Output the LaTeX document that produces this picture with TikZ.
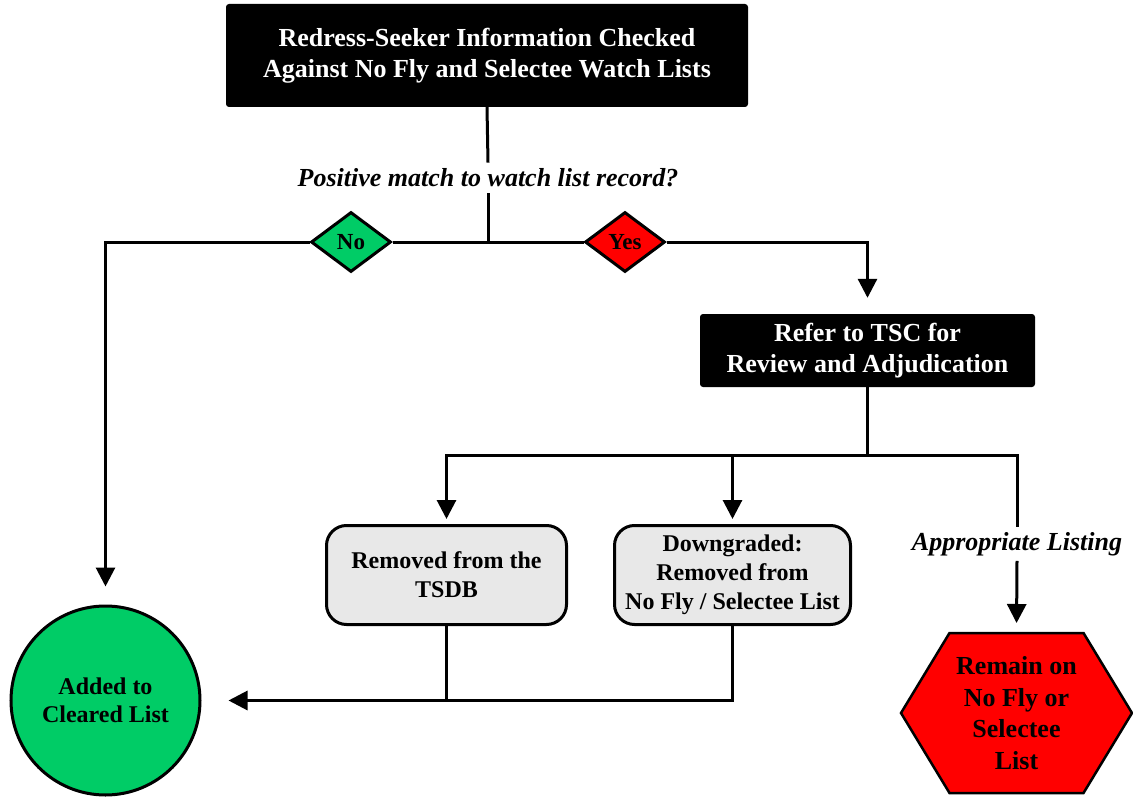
\documentclass[tikz,border=0pt]{standalone}
\usepackage{fontspec}
\setmainfont{Liberation Serif}
\usetikzlibrary{arrows.meta,shapes.geometric,calc}

\definecolor{okgreen}{RGB}{0,204,102}
\definecolor{stopred}{RGB}{255,0,0}
\definecolor{boxgray}{RGB}{232,232,232}

\tikzset{
  conn/.style={line width=3pt},
  arr/.style={conn, -{Triangle[width=19pt,length=19pt]}},
  darkbox/.style={fill=black, text=white, rounded corners=3pt, inner sep=0pt,
    align=center, font=\fontsize{26}{31}\selectfont\bfseries},
  decision/.style={diamond, draw, line width=3pt, inner sep=0pt,
    minimum width=80pt, minimum height=60pt, aspect=1.33,
    font=\fontsize{23}{27}\selectfont\bfseries},
  outcome/.style={draw, line width=3pt, fill=boxgray, rounded corners=20pt,
    align=center, inner sep=0pt, font=\fontsize{24}{29}\selectfont\bfseries},
  qlabel/.style={fill=white, inner sep=6pt,
    font=\fontsize{26}{31}\selectfont\bfseries\itshape},
  bigtext/.style={align=center, inner sep=0pt,
    font=\fontsize{24}{28}\selectfont\bfseries},
}

\begin{document}
\begin{tikzpicture}[x=1pt,y=-1pt]
\useasboundingbox (0,0) rectangle (1133,797);

% main process boxes
\node[darkbox, minimum width=522pt, minimum height=103pt] (check) at (487,55.5)
  {Redress-Seeker Information Checked\\Against No Fly and Selectee Watch Lists};
\node[qlabel] (q) at (488,178) {Positive match to watch list record?};
\coordinate (J) at (488,242);

% decisions
\node[decision, fill=okgreen] (no) at (351,242) {No};
\node[decision, fill=stopred] (yes) at (625,242) {Yes};

\node[darkbox, minimum width=335pt, minimum height=73pt] (tsc) at (867.5,350.5)
  {Refer to TSC for\\Review and Adjudication};

% outcomes
\node[circle, draw, line width=3pt, fill=okgreen, minimum size=189pt,
  bigtext] (cleared) at (105.5,700.5) {Added to\\Cleared List};

\node[outcome, minimum width=240pt, minimum height=99pt] (removed) at (446.5,575)
  {Removed from the\\TSDB};
\node[outcome, minimum width=236pt, minimum height=99pt] (downgraded) at (732.5,575)
  {Downgraded:\\Removed from\\No Fly / Selectee List};

\node[qlabel, inner sep=5pt] (appr) at (1017,544) {Appropriate Listing};

% hexagon for the remaining listing
\node[align=center, inner sep=0pt, font=\fontsize{26}{31.5}\selectfont\bfseries]
  (hex) at (1016.5,713) {};
\draw[line width=2.5pt, fill=stopred]
  ($(hex.center)+(-115.5,0)$) -- ($(hex.center)+(-67,-80)$) --
  ($(hex.center)+(67,-80)$) -- ($(hex.center)+(115.5,0)$) --
  ($(hex.center)+(67,80)$) -- ($(hex.center)+(-67,80)$) -- cycle;
\node[align=center, inner sep=0pt, font=\fontsize{26}{31.5}\selectfont\bfseries]
  (hextext) at (hex.center) {Remain on\\No Fly or\\Selectee\\List};
\coordinate (hextop) at ($(hex.center)+(0,-80)$);

% connectors
\draw[conn] (check.south) -- (q.north);
\draw[conn] (q.south) -- (J);
\draw[conn] (J) -- (no.east);
\draw[conn] (J) -- (yes.west);
\draw[arr, shorten >=18pt] (no.west) -| (cleared.north);
\draw[arr, shorten >=16pt] (yes.east) -| (tsc.north);

\coordinate (B) at (867.5,455);
\draw[conn] (tsc.south) -- (B);
\draw[arr, shorten >=5pt] (B) -| (removed.north);
\draw[arr, shorten >=5pt] (B) -| (downgraded.north);
\draw[conn] (B) -| (appr.north);
\draw[arr, shorten >=10pt] (appr.south) -- (hextop);

\draw[conn] (removed.south) -- (removed.south |- cleared.east);
\draw[arr, shorten >=27pt] (downgraded.south) |- (cleared.east);
\end{tikzpicture}
\end{document}
